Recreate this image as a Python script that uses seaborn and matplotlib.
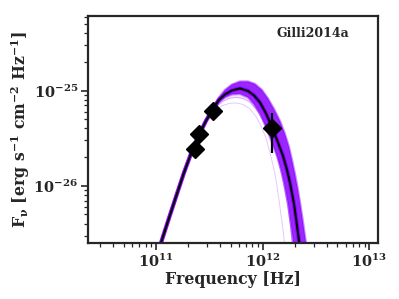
import numpy as np
import pandas as pd
import matplotlib
matplotlib.use("Agg")
import matplotlib.pyplot as plt
import matplotlib.ticker as mticker
import seaborn as sns

# ---- data (log10 of frequency [Hz] and flux) ----
model_logfreq = [11.0469, 11.1218, 11.1940, 11.2624, 11.3346, 11.4058, 11.4686, 11.5370,
                 11.5904, 11.6467, 11.7123, 11.7872, 11.8622, 11.9185, 11.9747, 12.0309,
                 12.0778, 12.1340, 12.1902, 12.2277, 12.2559, 12.2933, 12.3168, 12.3430]
model_logflux = [-26.6013, -26.3410, -26.0944, -25.8636, -25.6432, -25.4596, -25.3179, -25.1868,
                 -25.0976, -25.0399, -24.9979, -24.9769, -25.0031, -25.0504, -25.1238, -25.2392,
                 -25.3599, -25.5173, -25.6852, -25.8321, -25.9685, -26.1889, -26.3778, -26.6013]

band_upper_logfreq = [11.4686, 11.5370, 11.5904, 11.6467, 11.7123, 11.7872, 11.8622, 11.9278,
                      11.9934, 12.0497, 12.1059, 12.1621, 12.2090, 12.2465, 12.2746, 12.3027,
                      12.3308, 12.3543, 12.3777, 12.3964, 12.4058]
band_upper_logflux = [-25.3179, -25.1710, -25.0714, -24.9927, -24.9349, -24.9035, -24.9035, -24.9297,
                      -24.9927, -25.0818, -25.1920, -25.3179, -25.4544, -25.5908, -25.7272, -25.8741,
                      -26.0420, -26.2046, -26.3778, -26.5247, -26.6013]

band_lower_logfreq = [12.2868, 12.2605, 12.2371, 12.1996, 12.1715, 12.1340, 12.0778, 12.0215,
                      11.9747, 11.9185, 11.8622, 11.7873, 11.7123, 11.6467, 11.5904, 11.5370, 11.4686]
band_lower_logflux = [-26.6013, -26.3778, -26.1889, -25.9685, -25.8321, -25.6852, -25.5173, -25.3599,
                      -25.2445, -25.1448, -25.0714, -25.0346, -25.0399, -25.0714, -25.1238, -25.1973, -25.3179]

faint1_logfreq = [11.5061, 11.5623, 11.6186, 11.6842, 11.7498, 11.8154, 11.8810, 11.9372,
                  11.9841, 12.0309, 12.0684, 12.1012, 12.1293, 12.1527, 12.1715, 12.1902, 12.2043]
faint1_logflux = [-25.2655, -25.2025, -25.1605, -25.1343, -25.1291, -25.1448, -25.1920, -25.2707,
                  -25.3704, -25.4963, -25.6537, -25.8006, -25.9685, -26.1469, -26.3043, -26.4617, -26.6013]

faint2_logfreq = [11.5061, 11.5623, 11.6186, 11.6842, 11.7498, 11.8154, 11.8810, 11.9372,
                  11.9934, 12.0497, 12.0965, 12.1434, 12.1809, 12.2090, 12.2371, 12.2605, 12.2746]
faint2_logflux = [-25.2550, -25.1763, -25.1186, -25.0818, -25.0714, -25.0818, -25.1238, -25.1920,
                  -25.2917, -25.4229, -25.5593, -25.7272, -25.8951, -26.0525, -26.2309, -26.4197, -26.6013]

obs_freq = [2.31e11, 2.55e11, 3.44e11, 1.22e12]
obs_flux = [2.44e-26, 3.49e-26, 6.08e-26, 4.06e-26]
obs_err_lo = [0.0, 0.0, 0.0, 1.86e-26]
obs_err_hi = [0.0, 0.0, 0.0, 1.81e-26]

xticks = [1e11, 1e12, 1e13]
yticks = [1e-26, 1e-25]

label_text = "Gilli2014a"
xlabel_text = "Frequency [Hz]"
ylabel_text = r"$\mathbf{F_{\nu}}$ [erg s$^{-1}$ cm$^{-2}$ Hz$^{-1}$]"

# ---- style ----
sns.set_style("ticks")
plt.rcParams["font.family"] = ["DejaVu Serif"]
plt.rcParams["font.weight"] = "bold"
plt.rcParams["axes.labelweight"] = "bold"
plt.rcParams["mathtext.fontset"] = "dejavuserif"
plt.rcParams["mathtext.default"] = "bf"

fig = plt.figure(figsize=(3.99, 2.99), dpi=100)
ax = fig.add_axes([0.2206, 0.187, 0.7264, 0.761])

purple = "#8A00FF"


def frame(lf, ly):
    return pd.DataFrame({"freq": 10 ** np.array(lf), "flux": 10 ** np.array(ly)})


model = frame(model_logfreq, model_logflux)
upper = frame(band_upper_logfreq, band_upper_logflux)
lower = frame(band_lower_logfreq, band_lower_logflux)
faint1 = frame(faint1_logfreq, faint1_logflux)
faint2 = frame(faint2_logfreq, faint2_logflux)

# light region between the faint curves and the dense band
ax.fill(np.concatenate([faint2["freq"], lower["freq"]]),
        np.concatenate([faint2["flux"], lower["flux"]]),
        color=purple, alpha=0.10, lw=0)
for fd, a in [(faint1, 0.22), (faint2, 0.30)]:
    sns.lineplot(data=fd, x="freq", y="flux", ax=ax, color=purple, alpha=a, lw=0.7,
                 sort=False, estimator=None)
# dense band
band_x = np.concatenate([upper["freq"], lower["freq"]])
band_y = np.concatenate([upper["flux"], lower["flux"]])
ax.fill(band_x, band_y, facecolor="none", edgecolor=purple, alpha=0.45, lw=1.6)
ax.fill(band_x, band_y, color=purple, alpha=0.85, lw=0)
# purple halo along the best-fit line, then the line itself
sns.lineplot(data=model, x="freq", y="flux", ax=ax, color=purple, lw=3.0, alpha=0.95,
             sort=False, estimator=None)
sns.lineplot(data=model, x="freq", y="flux", ax=ax, color="black", lw=1.5,
             sort=False, estimator=None)

ax.errorbar(obs_freq, obs_flux, yerr=[obs_err_lo, obs_err_hi], fmt="D", color="black",
            ms=9, elinewidth=1.6, capsize=0, zorder=5)

ax.set_xscale("log")
ax.set_yscale("log")
ax.set_xlim(2.31e10, 1.2e13)
ax.set_ylim(2.5e-27, 6.15e-25)
ax.xaxis.set_major_locator(mticker.FixedLocator(xticks))
ax.yaxis.set_major_locator(mticker.FixedLocator(yticks))
ax.xaxis.set_major_formatter(mticker.LogFormatterSciNotation())
ax.yaxis.set_major_formatter(mticker.LogFormatterSciNotation())
ax.xaxis.set_minor_locator(mticker.LogLocator(base=10, subs=np.arange(2, 10), numticks=20))
ax.yaxis.set_minor_locator(mticker.LogLocator(base=10, subs=np.arange(2, 10), numticks=20))
ax.xaxis.set_minor_formatter(mticker.NullFormatter())
ax.yaxis.set_minor_formatter(mticker.NullFormatter())

ax.set_xlabel(xlabel_text, fontsize=11.3, fontweight="bold", labelpad=1)
ax.set_ylabel(ylabel_text, fontsize=11.3, fontweight="bold", labelpad=1)

for s in ax.spines.values():
    s.set_linewidth(1.6)
    s.set_visible(True)
ax.tick_params(axis="both", which="major", direction="out", length=5, width=1.2,
               labelsize=10.5, top=False, right=False, pad=2)
ax.tick_params(axis="both", which="minor", direction="out", length=3, width=0.9,
               top=False, right=False)

ax.text(0.776, 0.919, label_text, transform=ax.transAxes, ha="center", va="center",
        fontsize=9, fontweight="bold", family="DejaVu Serif")

fig.savefig("out.png", dpi=100)
